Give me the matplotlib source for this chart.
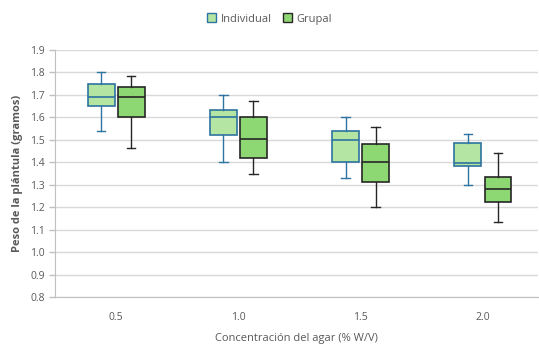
import matplotlib.pyplot as plt
from matplotlib.patches import Patch

categories = ["0.5", "1.0", "1.5", "2.0"]

# five-number summaries: low whisker, q1, median, q3, high whisker
ind_low = [1.54, 1.40, 1.33, 1.30]
ind_q1 = [1.65, 1.52, 1.40, 1.385]
ind_med = [1.69, 1.60, 1.50, 1.395]
ind_q3 = [1.748, 1.635, 1.54, 1.488]
ind_high = [1.80, 1.70, 1.60, 1.525]

grp_low = [1.465, 1.35, 1.20, 1.135]
grp_q1 = [1.60, 1.42, 1.31, 1.225]
grp_med = [1.69, 1.505, 1.40, 1.283]
grp_q3 = [1.735, 1.60, 1.48, 1.335]
grp_high = [1.785, 1.673, 1.555, 1.443]

plt.rcParams['font.family'] = ['Open Sans', 'DejaVu Sans']
text_color = "#595959"


def stats(low, q1, med, q3, high):
    return [dict(whislo=a, q1=b, med=c, q3=d, whishi=e, fliers=[])
            for a, b, c, d, e in zip(low, q1, med, q3, high)]


fig = plt.figure(figsize=(5.39, 3.47), dpi=100)
ax = fig.add_axes([55 / 539, 50 / 347, 483 / 539, 247 / 347])

x = range(len(categories))
series = [
    (stats(ind_low, ind_q1, ind_med, ind_q3, ind_high), -0.123, "#b4e5a2", "#2e74a0", "Individual"),
    (stats(grp_low, grp_q1, grp_med, grp_q3, grp_high), 0.123, "#8ed874", "#262626", "Grupal"),
]
for st, off, fill, edge, name in series:
    ax.bxp(st, positions=[i + off for i in x], widths=0.22, patch_artist=True,
           showfliers=False,
           boxprops=dict(facecolor=fill, edgecolor=edge, linewidth=1.2),
           medianprops=dict(color=edge, linewidth=1.2),
           whiskerprops=dict(color=edge, linewidth=1.0),
           capprops=dict(color=edge, linewidth=1.0),
           capwidths=0.07, zorder=3)

ax.set_xlim(-0.5, 3.45)
ax.set_ylim(0.8, 1.9)
ax.set_yticks([0.8 + 0.1 * i for i in range(12)])
ax.set_yticklabels([f"{0.8 + 0.1 * i:.1f}" for i in range(12)])
ax.set_xticks(list(x))
ax.set_xticklabels(categories)
ax.grid(axis="y", color="#d9d9d9", linewidth=1.0, zorder=0)
ax.set_axisbelow(True)
for s in ["top", "right"]:
    ax.spines[s].set_visible(False)
ax.spines["left"].set_color("#bfbfbf")
ax.spines["bottom"].set_color("#bfbfbf")
ax.tick_params(axis="y", colors="#bfbfbf", labelcolor=text_color, labelsize=7.5, length=4, width=1)
ax.tick_params(axis="x", length=0, labelcolor=text_color, labelsize=7.5, pad=11)

ax.set_xlabel("Concentración del agar (% W/V)", color=text_color, fontsize=8, labelpad=7)
ax.set_ylabel("Peso de la plántula (gramos)", color=text_color, fontsize=8, fontweight="bold", labelpad=5)

handles = [Patch(facecolor="#b4e5a2", edgecolor="#2e74a0", label="Individual"),
           Patch(facecolor="#8ed874", edgecolor="#262626", label="Grupal")]
fig.legend(handles=handles, loc="center", bbox_to_anchor=(0.5, 1 - 19 / 347), ncol=2, frameon=False,
           fontsize=8, labelcolor=text_color, handlelength=0.8, handleheight=0.8, handletextpad=0.4,
           columnspacing=1.0)

fig.savefig("out.png", dpi=100)
